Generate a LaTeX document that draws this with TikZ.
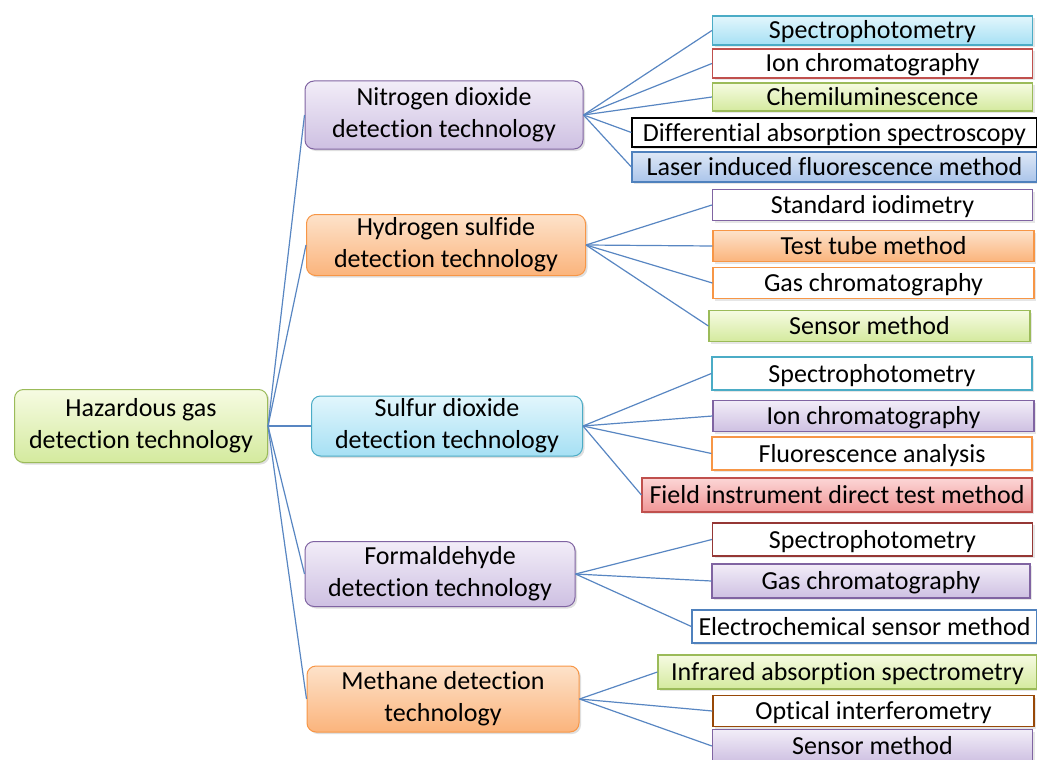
\documentclass[tikz,border=0pt]{standalone}
\usepackage{fontspec}
\setmainfont{Carlito}[Ligatures=NoCommon]
\usetikzlibrary{shadows}
\definecolor{lk}{RGB}{88,134,194}
\definecolor{gb}{RGB}{155,187,89}
\definecolor{gt}{RGB}{246,251,226}
\definecolor{gd}{RGB}{212,234,158}
\definecolor{vb}{RGB}{128,100,162}
\definecolor{vt}{RGB}{242,237,248}
\definecolor{vd}{RGB}{206,192,226}
\definecolor{ob}{RGB}{247,150,70}
\definecolor{ot}{RGB}{253,226,202}
\definecolor{od}{RGB}{251,180,124}
\definecolor{cb}{RGB}{75,172,198}
\definecolor{ct}{RGB}{226,246,252}
\definecolor{cd}{RGB}{166,224,244}
\definecolor{rb}{RGB}{192,80,77}
\definecolor{rt}{RGB}{252,214,214}
\definecolor{rd}{RGB}{240,150,150}
\definecolor{bb}{RGB}{79,129,189}
\definecolor{bt}{RGB}{222,232,246}
\definecolor{bd}{RGB}{170,196,234}
\definecolor{br}{RGB}{149,55,53}
\definecolor{bo}{RGB}{152,72,7}

\begin{document}
\begin{tikzpicture}[
every node/.style={font=\fontsize{26pt}{32pt}\selectfont},
hub/.style={rounded corners=9pt, line width=1pt, align=center, minimum width=274pt, inner sep=2pt,
  drop shadow={shadow xshift=2pt, shadow yshift=-2pt, opacity=0.25}},
leaf/.style={rectangle, line width=1.2pt, minimum width=#1, minimum height=31pt, inner sep=1pt,
  text height=17pt, text depth=0pt, drop shadow={shadow xshift=2pt, shadow yshift=-2pt, opacity=0.2}},
leaf/.default=320pt,
link/.style={draw=lk, line width=1.2pt}]
\useasboundingbox (0pt,0pt) rectangle (1037pt,-760pt);
% root and branches
\node (haz) [hub, draw=gb, top color=gt, bottom color=gd, minimum width=253pt, minimum height=73pt] at (141pt, -426pt) {Hazardous gas\\detection technology};
\node (no2) [hub, draw=vb, top color=vt, bottom color=vd, minimum width=278pt, minimum height=68pt] at (444pt, -115pt) {Nitrogen dioxide\\detection technology};
\node (h2s) [hub, draw=ob, top color=ot, bottom color=od, minimum width=279pt, minimum height=61pt] at (446pt, -245pt) {Hydrogen sulfide\\detection technology};
\node (so2) [hub, draw=cb, top color=ct, bottom color=cd, minimum width=271pt, minimum height=60pt] at (447pt, -426pt) {Sulfur dioxide\\detection technology};
\node (hcho) [hub, draw=vb, top color=vt, bottom color=vd, minimum width=270pt, minimum height=65pt] at (440pt, -574pt) {Formaldehyde\\detection technology};
\node (ch4) [hub, draw=ob, top color=ot, bottom color=od, minimum width=272pt, minimum height=66pt] at (443pt, -699pt) {Methane detection\\technology};
% nitrogen dioxide
\node (n1) [leaf, draw=cb, top color=ct, bottom color=cd, minimum height=29pt] at (872.5pt, -30.5pt) {Spectrophotometry};
\node (n2) [leaf, draw=rb, fill=white, minimum height=29pt] at (872.5pt, -63.5pt) {Ion chromatography};
\node (n3) [leaf, draw=gb, top color=gt, bottom color=gd, minimum height=28pt] at (872.5pt, -97pt) {Chemiluminescence};
\node (n4) [leaf=405pt, draw=black, fill=white, minimum height=29pt] at (834.5pt, -132.5pt) {Differential absorption spectroscopy};
\node (n5) [leaf=405pt, draw=bb, top color=bt, bottom color=bd, minimum height=30pt] at (834.5pt, -167pt) {Laser induced fluorescence method};
% hydrogen sulfide
\node (h1) [leaf, draw=vb, fill=white] at (872.5pt, -205pt) {Standard iodimetry};
\node (h2) [leaf=321pt, draw=ob, top color=ot, bottom color=od] at (873.5pt, -246pt) {Test tube method};
\node (h3) [leaf=321pt, draw=ob, fill=white] at (873.5pt, -283pt) {Gas chromatography};
\node (h4) [leaf=321pt, draw=gb, top color=gt, bottom color=gd] at (869.5pt, -326pt) {Sensor method};
% sulfur dioxide
\node (s1) [leaf, draw=cb, fill=white, minimum height=33pt] at (872pt, -373.5pt) {Spectrophotometry};
\node (s2) [leaf=321pt, draw=vb, top color=vt, bottom color=vd] at (873.5pt, -416pt) {Ion chromatography};
\node (s3) [leaf, draw=ob, fill=white, minimum height=33pt] at (872pt, -453.5pt) {Fluorescence analysis};
\node (s4) [leaf=390pt, draw=rb, top color=rt, bottom color=rd, minimum height=34pt] at (837pt, -495pt) {Field instrument direct test method};
% formaldehyde
\node (f1) [leaf, draw=br, fill=white, minimum height=33pt] at (872.5pt, -539.5pt) {Spectrophotometry};
\node (f2) [leaf=318pt, draw=vb, top color=vt, bottom color=vd, minimum height=34pt] at (871pt, -581pt) {Gas chromatography};
\node (f3) [leaf=345pt, draw=bb, fill=white, minimum height=33pt] at (864.5pt, -626.5pt) {Electrochemical sensor method};
% methane
\node (m1) [leaf=379pt, draw=gb, top color=gt, bottom color=gd, minimum height=34pt] at (847.5pt, -672pt) {Infrared absorption spectrometry};
\node (m2) [leaf=321pt, draw=bo, fill=white] at (873.5pt, -711pt) {Optical interferometry};
\node (m3) [leaf, draw=vb, top color=vt, bottom color=vd, minimum height=33pt] at (872.5pt, -746pt) {Sensor method};
% links
\draw [link] (haz.east) to (no2.west);
\draw [link] (haz.east) to (h2s.west);
\draw [link] (haz.east) to (so2.west);
\draw [link] (haz.east) to (hcho.west);
\draw [link] (haz.east) to (ch4.west);
\draw [link] (no2.east) to (n1.west);
\draw [link] (no2.east) to (n2.west);
\draw [link] (no2.east) to (n3.west);
\draw [link] (no2.east) to (n4.west);
\draw [link] (no2.east) to (n5.west);
\draw [link] (h2s.east) to (h1.west);
\draw [link] (h2s.east) to (h2.west);
\draw [link] (h2s.east) to (h3.west);
\draw [link] (h2s.east) to (h4.west);
\draw [link] (so2.east) to (s1.west);
\draw [link] (so2.east) to (s2.west);
\draw [link] (so2.east) to (s3.west);
\draw [link] (so2.east) to (s4.west);
\draw [link] (hcho.east) to (f1.west);
\draw [link] (hcho.east) to (f2.west);
\draw [link] (hcho.east) to (f3.west);
\draw [link] (ch4.east) to (m1.west);
\draw [link] (ch4.east) to (m2.west);
\draw [link] (ch4.east) to (m3.west);
\end{tikzpicture}
\end{document}
